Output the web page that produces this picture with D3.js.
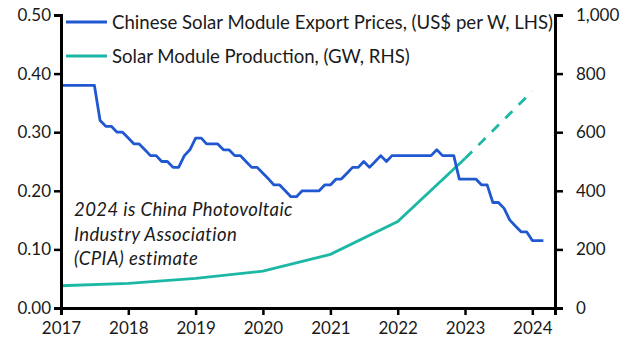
<!DOCTYPE html>
<html><head><meta charset="utf-8">
<script src="https://cdn.jsdelivr.net/npm/d3@7"></script>
<style>
html,body{margin:0;padding:0;background:#fff;}
svg text{font-family:Lato,"Open Sans",sans-serif;fill:#1a1a1a;}
</style></head>
<body>
<svg id="chart" width="630" height="354"></svg>
<script>
// ---- data ----
const priceStart = "2017-01"; // monthly series start
const priceValues = [
 0.38,0.38,0.38,0.38,0.38,0.38,0.38,0.32,0.31,0.31,0.30,0.30,
 0.29,0.28,0.28,0.27,0.26,0.26,0.25,0.25,0.24,0.24,0.26,0.27,
 0.29,0.29,0.28,0.28,0.28,0.27,0.27,0.26,0.26,0.25,0.24,0.24,
 0.23,0.22,0.21,0.21,0.20,0.19,0.19,0.20,0.20,0.20,0.20,0.21,
 0.21,0.22,0.22,0.23,0.24,0.24,0.25,0.24,0.25,0.26,0.25,0.26,
 0.26,0.26,0.26,0.26,0.26,0.26,0.26,0.27,0.26,0.26,0.26,0.22,
 0.22,0.22,0.22,0.21,0.21,0.18,0.18,0.17,0.15,0.14,0.13,0.13,
 0.115,0.115,0.115
];
const prodYears = [2017,2018,2019,2020,2021,2022,2023,2024];
const prodValues = [76,84,101,126,183,295,510,740];
const lastActualYear = 2023; // 2024 is CPIA estimate (dashed)
const leftTicks = [0,0.1,0.2,0.3,0.4,0.5];
const rightTicks = [0,200,400,600,800,1000];
const xTickYears = [2017,2018,2019,2020,2021,2022,2023,2024];
const legendLabels = ["Chinese Solar Module Export Prices, (US$ per W, LHS)","Solar Module Production, (GW, RHS)"];
const noteLines = ["2024 is China Photovoltaic","Industry Association","(CPIA) estimate"];
const colors = {price:"#2058d2", prod:"#1cb8a6"};

// ---- layout ----
const W=630,H=354;
const m={left:61,right:75,top:15,bottom:46};
const svg=d3.select("#chart");
const parse=d3.timeParse("%Y-%m");
const start=parse(priceStart);
const priceData=priceValues.map((v,i)=>({date:d3.timeMonth.offset(start,i),v}));
const prodData=prodYears.map((y,i)=>({date:new Date(y,0,1),v:prodValues[i],y}));

const x=d3.scaleTime().domain([new Date(2017,0,1),new Date(2024,4,3)]).range([m.left,W-m.right]);
const yL=d3.scaleLinear().domain([0,0.5]).range([H-m.bottom,m.top]);
const yR=d3.scaleLinear().domain([0,1000]).range([H-m.bottom,m.top]);

// lines
const prodLine=d3.line().x(d=>x(d.date)).y(d=>yR(d.v)).curve(d3.curveLinear);
svg.append("path").datum(prodData.filter(d=>d.y<=lastActualYear))
  .attr("d",prodLine).attr("fill","none").attr("stroke",colors.prod).attr("stroke-width",2.8);
svg.append("path").datum(prodData.filter(d=>d.y>=lastActualYear))
  .attr("d",prodLine).attr("fill","none").attr("stroke",colors.prod).attr("stroke-width",2.8)
  .attr("stroke-dasharray","10,9");

const priceLine=d3.line().x(d=>x(d.date)).y(d=>yL(d.v));
svg.append("path").datum(priceData).attr("d",priceLine).attr("fill","none")
  .attr("stroke",colors.price).attr("stroke-width",2.8).attr("stroke-linejoin","round");

// axes
function styleAxis(g){
  g.select(".domain").attr("stroke","#000").attr("stroke-width",3);
  g.selectAll(".tick line").attr("stroke","#000").attr("stroke-width",2.5);
  g.selectAll(".tick text").attr("font-size",17).attr("fill","#1a1a1a").style("font-family","Lato, sans-serif");
}
const gx=svg.append("g").attr("transform",`translate(0,${H-m.bottom})`)
  .call(d3.axisBottom(x).tickValues(xTickYears.map(y=>new Date(y,0,1))).tickFormat(d3.timeFormat("%Y")).tickSizeOuter(0).tickSize(7).tickPadding(7));
styleAxis(gx);
const gl=svg.append("g").attr("transform",`translate(${m.left},0)`)
  .call(d3.axisLeft(yL).tickValues(leftTicks).tickFormat(d3.format(".2f")).tickSizeOuter(0).tickSize(7).tickPadding(3));
styleAxis(gl);
const gr=svg.append("g").attr("transform",`translate(${W-m.right},0)`)
  .call(d3.axisRight(yR).tickValues(rightTicks).tickFormat(d3.format(",")).tickSizeOuter(0).tickSize(8).tickPadding(13));
styleAxis(gr);

// legend
const leg=svg.append("g");
[{c:colors.price,y:22},{c:colors.prod,y:56}].forEach((d,i)=>{
  leg.append("line").attr("x1",66).attr("x2",107).attr("y1",d.y).attr("y2",d.y)
    .attr("stroke",d.c).attr("stroke-width",2.8);
  leg.append("text").attr("x",112).attr("y",d.y).attr("dy","0.35em")
    .attr("font-size",18.6).text(legendLabels[i]);
});

// note
const note=svg.append("text").attr("x",74).attr("y",216).attr("font-size",18.5)
  .attr("font-style","italic").attr("letter-spacing",0.4);
noteLines.forEach((t,i)=>note.append("tspan").attr("x",74).attr("dy",i?24.5:0).text(t));
</script>
</body></html>
